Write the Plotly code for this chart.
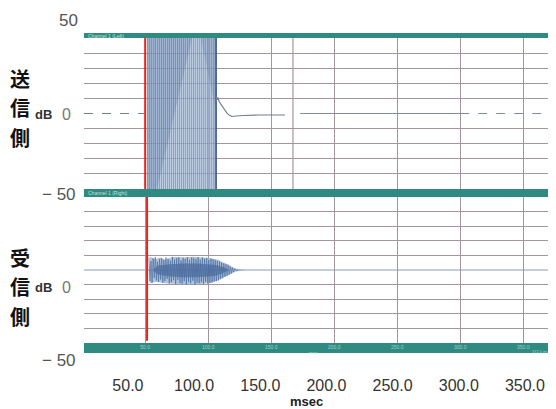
import plotly.graph_objects as go

# ---------------- data ----------------
x_ticks = [50, 100, 150, 200, 250, 300, 350]
x_ticktext = ["50.0", "100.0", "150.0", "200.0", "250.0", "300.0", "350.0"]
y_grid = [-40, -30, -20, -10, 10, 20, 30, 40]

send_marker_t = 50.0
recv_marker_t = 51.5
send_extra_line_t = 167.3

# sending side (送信側): clipped block
clip_t = [51.5, 106.3, 106.3, 51.5]
clip_v = [-50, -50, 50, 50]
shadeA_t = [51.5, 59.4, 87.2, 51.5]
shadeA_v = [-50, -50, 50, 50]
shadeB_t = [94.0, 106.3, 106.3]
shadeB_v = [50, 50, 2]
clip_strokes = [52.0, 53.5, 55.1, 56.8, 58.2, 59.9, 61.4, 63.0, 64.6, 66.1,
                67.8, 69.3, 70.9, 72.5, 74.0, 75.7, 77.2, 78.8, 80.4, 81.9,
                83.6, 85.1, 86.7, 88.3, 89.8, 91.5, 93.0, 94.6, 96.2, 97.7,
                99.4, 100.9, 102.5, 104.1, 105.4, 106.2]
tail_t = [106.3, 106.8, 107.3, 107.9, 108.6, 109.4, 110.5, 111.8, 113.2, 114.9,
          116.8, 118.9, 122.0, 128.0, 140.0, 161.0]
tail_v = [8.0, 11.0, 9.0, 10.5, 8.0, 7.0, 5.5, 3.6, 1.8, 0.3,
          -1.2, -2.0, -1.7, -1.3, -1.0, -1.0]
pre_t = [1.5, 49.0]
pre_v = [0, 0]
mid_t = [173.0, 300.0]
mid_v = [0, 0]
post_t = [300.0, 370.0]
post_v = [0, 0]

# receiving side (受信側): burst
base2_t = [1.5, 370.0]
base2_v = [0, 0]
env_t = [53.0, 54.0, 58.0, 62.0, 66.0, 72.0, 80.0, 88.0, 96.0, 102.0,
         108.0, 112.0, 116.0, 119.0, 122.0, 126.0, 130.0]
env_hi = [0, 9.0, 7.5, 8.5, 7.0, 9.0, 8.5, 9.0, 8.5, 8.0,
          7.0, 5.0, 4.0, 2.0, 1.0, 0.5, 0]
env_lo = [0, -9.0, -8.0, -8.5, -9.0, -9.5, -10.0, -10.0, -9.5, -9.0,
          -7.0, -5.0, -3.5, -2.0, -1.0, -0.5, 0]
core_t = [56.0, 60.0, 70.0, 80.0, 90.0, 100.0, 106.0, 112.0, 116.0]
core_hi = [0, 3.0, 4.0, 4.5, 4.5, 4.0, 3.5, 2.0, 0]
core_lo = [0, -3.0, -4.5, -5.0, -5.0, -4.5, -4.0, -2.0, 0]
wave_t = [53.0, 53.8, 54.6, 55.5, 56.3, 57.2, 58.0, 58.9, 59.7, 60.6,
          61.4, 62.3, 63.1, 64.0, 64.8, 65.7, 66.5, 67.4, 68.2, 69.1,
          69.9, 70.8, 71.6, 72.5, 73.3, 74.2, 75.0, 75.9, 76.7, 77.6,
          78.4, 79.3, 80.1, 81.0, 81.8, 82.7, 83.5, 84.4, 85.2, 86.1,
          86.9, 87.8, 88.6, 89.5, 90.3, 91.2, 92.0, 92.9, 93.7, 94.6,
          95.4, 96.3, 97.1, 98.0, 98.8, 99.7, 100.5, 101.4, 102.2, 103.1,
          103.9, 104.8, 105.6, 106.5, 107.3, 108.2, 109.0, 109.9, 110.7, 111.6,
          112.4, 113.3, 114.1, 115.0, 115.8, 116.7, 117.5, 118.4, 119.2, 120.1,
          121.0, 122.5, 124.0]
wave_v = [8.5, -7.8, 6.2, -8.9, 7.9, -5.5, 8.8, -7.2, 5.8, -8.1,
          7.4, -6.6, 8.2, -8.8, 6.9, -7.5, 8.6, -6.1, 7.8, -9.2,
          6.4, -8.4, 8.9, -7.0, 7.2, -9.6, 8.1, -6.8, 8.7, -8.9,
          6.6, -9.4, 8.4, -7.7, 7.6, -9.8, 8.8, -8.2, 6.9, -9.1,
          8.5, -7.4, 8.0, -9.7, 7.3, -8.6, 8.9, -9.0, 7.1, -8.3,
          8.6, -9.5, 7.7, -8.0, 8.3, -9.2, 6.8, -8.8, 7.9, -8.4,
          7.5, -7.9, 6.9, -7.6, 6.2, -7.1, 5.8, -6.4, 5.1, -5.6,
          4.6, -4.8, 3.9, -4.1, 3.2, -3.3, 2.4, -2.5, 1.7, -1.6,
          0.9, -0.5, 0.2]

# ---------------- layout helpers ----------------
# the page adds an 8px body margin, so the figure is made 8px smaller
OFF = 8
W, H = 556 - OFF, 409 - OFF
L, R, T, B = 84 - OFF, 0, 33 - OFF, 56
PW, PH = W - L - R, H - T - B


def px(x):  # page pixel -> paper x
    return (x - OFF - L) / PW


def py(y):  # page pixel -> paper y
    return (T + PH - (y - OFF)) / PH


TEAL = "#2f8a81"
GRID = "#a5939e"
XR = px(549)
top_dom = [py(189), py(38)]
bot_dom = [py(343), py(197)]

fig = go.Figure()

# --- top panel ---
fig.add_trace(go.Scatter(x=clip_t, y=clip_v, fill="toself", mode="none",
                         fillcolor="rgba(168,190,217,0.72)", xaxis="x", yaxis="y",
                         hoverinfo="skip"))
fig.add_trace(go.Scatter(x=shadeA_t, y=shadeA_v, fill="toself", mode="none",
                         fillcolor="rgba(95,125,170,0.30)", xaxis="x", yaxis="y",
                         hoverinfo="skip"))
fig.add_trace(go.Scatter(x=shadeB_t, y=shadeB_v, fill="toself", mode="none",
                         fillcolor="rgba(95,125,170,0.25)", xaxis="x", yaxis="y",
                         hoverinfo="skip"))
sx, sy = [], []
for t in clip_strokes:
    sx += [t, t, None]
    sy += [-50, 50, None]
fig.add_trace(go.Scatter(x=sx, y=sy, mode="lines",
                         line=dict(color="rgba(60,90,140,0.45)", width=0.9),
                         xaxis="x", yaxis="y", hoverinfo="skip"))
fig.add_trace(go.Scatter(x=[clip_t[1], clip_t[2]], y=[clip_v[1], clip_v[2]], mode="lines",
                         line=dict(color="#3d5883", width=1.5), xaxis="x", yaxis="y"))
fig.add_trace(go.Scatter(x=tail_t, y=tail_v, mode="lines",
                         line=dict(color="#6f7f98", width=1.1), xaxis="x", yaxis="y"))
fig.add_trace(go.Scatter(x=pre_t, y=pre_v, mode="lines",
                         line=dict(color="#6f7f98", width=1, dash="dash"), xaxis="x", yaxis="y"))
fig.add_trace(go.Scatter(x=mid_t, y=mid_v, mode="lines",
                         line=dict(color="#7d8ba3", width=1), xaxis="x", yaxis="y"))
fig.add_trace(go.Scatter(x=post_t, y=post_v, mode="lines",
                         line=dict(color="#7d8ba3", width=1, dash="dash"), xaxis="x", yaxis="y"))
fig.add_trace(go.Scatter(x=[send_extra_line_t, send_extra_line_t], y=[-50, 50], mode="lines",
                         line=dict(color=GRID, width=1.2), xaxis="x", yaxis="y"))
fig.add_trace(go.Scatter(x=[send_marker_t, send_marker_t], y=[-50, 50], mode="lines",
                         line=dict(color="#e8231e", width=2), xaxis="x", yaxis="y"))

# --- bottom panel ---
fig.add_trace(go.Scatter(x=base2_t, y=base2_v, mode="lines",
                         line=dict(color="#8a9bb8", width=1), xaxis="x2", yaxis="y2"))
fig.add_trace(go.Scatter(x=env_t + env_t[::-1], y=env_hi + env_lo[::-1], fill="toself",
                         mode="none", fillcolor="rgba(150,175,210,0.75)",
                         xaxis="x2", yaxis="y2", hoverinfo="skip"))
fig.add_trace(go.Scatter(x=wave_t, y=wave_v, mode="lines",
                         line=dict(color="rgba(75,110,160,0.75)", width=0.9),
                         xaxis="x2", yaxis="y2", hoverinfo="skip"))
fig.add_trace(go.Scatter(x=core_t + core_t[::-1], y=core_hi + core_lo[::-1], fill="toself",
                         mode="none", fillcolor="rgba(60,95,150,0.55)",
                         xaxis="x2", yaxis="y2", hoverinfo="skip"))
fig.add_trace(go.Scatter(x=[recv_marker_t, recv_marker_t], y=[-48.5, 50], mode="lines",
                         line=dict(color="#e8231e", width=2), xaxis="x2", yaxis="y2"))

# label-only axis trace (outer msec scale)
fig.add_trace(go.Scatter(x=x_ticks, y=[0] * len(x_ticks), mode="markers",
                         marker=dict(opacity=0), xaxis="x3", yaxis="y2", hoverinfo="skip"))

xcommon = dict(range=[1.45, 370.5], tickvals=x_ticks, showgrid=True, gridcolor=GRID,
               gridwidth=1.2, zeroline=False, showline=False, ticks="", fixedrange=True)
ycommon = dict(range=[-50, 50], tickvals=y_grid, showgrid=True, gridcolor=GRID,
               gridwidth=1.2, zeroline=False, showline=False, showticklabels=False,
               ticks="", fixedrange=True)

fig.update_layout(
    width=W, height=H, autosize=False,
    margin=dict(l=L, r=R, t=T, b=B, pad=0),
    paper_bgcolor="white", plot_bgcolor="white",
    showlegend=False,
    font=dict(family="Liberation Sans, Arial, sans-serif", color="#333"),
    xaxis=dict(domain=[0, XR], anchor="y", showticklabels=False, **xcommon),
    yaxis=dict(domain=top_dom, anchor="x", **ycommon),
    xaxis2=dict(domain=[0, XR], anchor="y2", showticklabels=True, ticktext=x_ticktext,
                tickfont=dict(size=5, color="#9fd3ca"), **xcommon),
    yaxis2=dict(domain=bot_dom, anchor="x2", **ycommon),
    xaxis3=dict(domain=[0, XR], overlaying="x2", anchor="free", position=0,
                range=[16.8, 368.2], tickvals=x_ticks, ticktext=x_ticktext,
                showgrid=False, zeroline=False, showline=False,
                ticks="outside", ticklen=18, tickcolor="rgba(0,0,0,0)",
                tickfont=dict(size=16, color="#333"), fixedrange=True),
)

# teal frame bands
bands = [
    (0, 1, py(38), 1),
    (0, 1, py(197), py(189)),
    (0, 1, 0, py(343)),
    (XR, 1, 0, 1),
]
for x0, x1, y0, y1 in bands:
    fig.add_shape(type="rect", xref="paper", yref="paper", x0=x0, x1=x1, y0=y0, y1=y1,
                  fillcolor=TEAL, line=dict(width=0), layer="below")


def ann(text, x, y, size, color="#333", family="Liberation Sans, Arial, sans-serif",
        weight="normal", xanchor="center"):
    fig.add_annotation(text=text, x=px(x), y=py(y), xref="paper", yref="paper",
                       showarrow=False, xanchor=xanchor, yanchor="middle",
                       font=dict(size=size, color=color, family=family, weight=weight))


ann("50", 68, 20, 17, "#555")
ann("dB", 43, 114, 13, "#333", weight="bold")
ann("0", 66, 114, 16, "#777")
ann("− 50", 59, 194, 17, "#555")
ann("dB", 43, 287, 13, "#333", weight="bold")
ann("0", 66, 287, 16, "#777")
ann("− 50", 59, 360, 17, "#555")
ann("msec", 306, 401, 13, "#222", weight="bold")

cjk = "Noto Sans CJK JP"
for ch, y in zip(["送", "信", "側"], [78, 107.5, 137]):
    ann(ch, 20, y, 20, "#111", family=cjk, weight="bold")
for ch, y in zip(["受", "信", "側"], [257, 286.5, 316]):
    ann(ch, 20, y, 20, "#111", family=cjk, weight="bold")

ann("Channel 1 (Left)", 86, 35.5, 5, "#bfe3dd", xanchor="left")
ann("Channel 1 (Right)", 86, 193, 5, "#bfe3dd", xanchor="left")
ann("msec", 314, 352, 4, "#a9d6cf")
ann("372.5 ms", 540, 351, 4, "#a9d6cf")

fig.write_html("out.html")
